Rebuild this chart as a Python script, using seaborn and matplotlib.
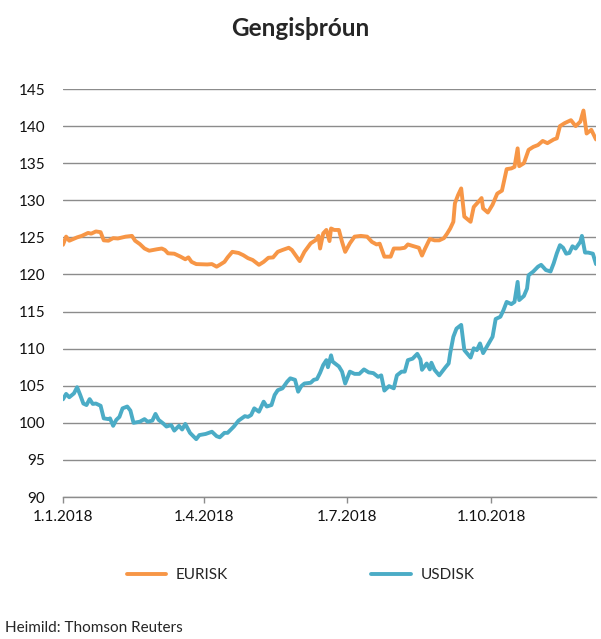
import seaborn as sns
import matplotlib.pyplot as plt
import pandas as pd

# days since 1.1.2018 and rates
eur_days = [0, 2, 4, 9, 12, 16, 18, 21, 24, 26, 29, 32, 35, 40, 44, 46, 49, 52, 55, 60,
            63, 65, 67, 71, 75, 78, 80, 82, 85, 92, 95, 98, 100, 103, 105, 108, 112, 115, 118, 121,
            125, 128, 131, 134, 137, 140, 144, 146, 149, 151, 154, 158, 161, 163, 164, 166, 168, 170, 171, 173,
            176, 178, 180, 183, 186, 190, 194, 197, 200, 202, 205, 209, 211, 215, 218, 220, 223, 227, 229, 231,
            234, 237, 240, 243, 245, 247, 249, 250, 252, 254, 256, 260, 262, 265, 267, 268, 271, 274, 277, 280,
            283, 286, 288, 290, 291, 294, 297, 300, 303, 306, 309, 313, 315, 317, 320, 324, 327, 330, 332, 334,
            337, 340]
eurisk = [124.0, 125.1, 124.55, 125.0, 125.2, 125.6, 125.5, 125.8, 125.7, 124.6, 124.55, 124.9, 124.85, 125.1, 125.2, 124.55, 124.1, 123.5, 123.2, 123.4,
          123.5, 123.3, 122.85, 122.8, 122.4, 122.05, 122.3, 121.7, 121.4, 121.35, 121.4, 121.05, 121.3, 121.7, 122.3, 123.05, 122.9, 122.6, 122.2, 121.95,
          121.3, 121.7, 122.25, 122.3, 123.05, 123.3, 123.6, 123.3, 122.4, 121.8, 123.05, 124.2, 124.6, 125.2, 123.5, 125.55, 126.0, 124.5, 126.2, 126.0,
          126.0, 124.4, 123.05, 124.2, 125.1, 125.2, 125.1, 124.4, 124.05, 124.15, 122.4, 122.4, 123.5, 123.5, 123.6, 124.05, 123.85, 123.6, 122.55, 123.5,
          124.8, 124.6, 124.6, 124.9, 125.5, 126.2, 127.1, 129.6, 130.7, 131.6, 127.8, 127.1, 129.1, 129.8, 130.3, 128.9, 128.35, 129.4, 130.9, 131.3,
          134.2, 134.3, 134.5, 137.0, 134.6, 135.0, 136.8, 137.2, 137.45, 138.0, 137.7, 138.2, 138.35, 140.0, 140.4, 140.8, 140.0, 140.6, 142.1, 139.0,
          139.5, 138.2]

usd_days = [0, 2, 4, 7, 9, 11, 13, 15, 17, 19, 21, 24, 26, 29, 30, 32, 34, 36, 38, 41,
            43, 45, 49, 52, 54, 57, 59, 61, 64, 66, 69, 71, 74, 76, 78, 81, 85, 87, 91, 95,
            98, 100, 103, 105, 109, 112, 114, 116, 118, 120, 122, 125, 128, 130, 133, 135, 137, 140, 143, 145,
            148, 150, 152, 154, 158, 160, 162, 164, 166, 168, 169, 171, 172, 176, 178, 180, 183, 186, 189, 192,
            195, 198, 201, 203, 205, 208, 211, 213, 216, 218, 220, 223, 226, 228, 229, 232, 234, 235, 237, 240,
            244, 246, 247, 249, 251, 254, 256, 260, 262, 264, 266, 268, 271, 274, 276, 279, 281, 283, 286, 288,
            290, 291, 294, 296, 297, 300, 303, 305, 308, 311, 313, 315, 317, 319, 321, 323, 325, 327, 330, 331,
            333, 335, 338, 340]
usdisk = [103.17, 103.9, 103.45, 103.97, 104.8, 103.75, 102.6, 102.4, 103.2, 102.55, 102.6, 102.3, 100.6, 100.5, 100.6, 99.6, 100.4, 100.8, 101.95, 102.2,
          101.65, 100.0, 100.15, 100.5, 100.15, 100.3, 101.2, 100.4, 99.9, 99.5, 99.7, 98.95, 99.6, 99.1, 99.85, 98.65, 97.8, 98.35, 98.5, 98.8,
          98.2, 98.05, 98.65, 98.65, 99.5, 100.3, 100.6, 100.9, 100.8, 101.05, 101.95, 101.5, 102.85, 102.2, 102.4, 103.75, 104.4, 104.65, 105.55, 106.0,
          105.8, 104.2, 104.95, 105.3, 105.4, 105.8, 105.9, 106.75, 107.8, 108.45, 107.5, 109.1, 108.25, 107.6, 106.9, 105.3, 106.9, 106.6, 106.6, 107.2,
          106.8, 106.7, 106.2, 106.4, 104.35, 104.95, 104.65, 106.4, 106.9, 106.9, 108.45, 108.65, 109.3, 108.55, 107.15, 108.0, 107.2, 108.1, 107.15, 106.4,
          107.5, 108.0, 109.4, 111.6, 112.7, 113.2, 109.8, 108.8, 110.05, 109.8, 110.7, 109.4, 110.5, 111.6, 114.0, 114.3, 115.2, 116.3, 116.0, 116.3,
          119.0, 116.55, 117.1, 118.1, 119.9, 120.4, 121.05, 121.3, 120.6, 120.4, 121.5, 122.85, 123.95, 123.6, 122.8, 122.9, 123.8, 123.5, 124.4, 125.2,
          122.95, 122.95, 122.8, 121.4]

tick_dates = ["2018-01-01", "2018-04-01", "2018-07-01", "2018-10-01"]
tick_labels = ["1.1.2018", "1.4.2018", "1.7.2018", "1.10.2018"]
y_ticks = list(range(90, 146, 5))

start = pd.Timestamp("2018-01-01")
df = pd.concat([
    pd.DataFrame({"date": start + pd.to_timedelta(eur_days, "D"), "rate": eurisk, "series": "EURISK"}),
    pd.DataFrame({"date": start + pd.to_timedelta(usd_days, "D"), "rate": usdisk, "series": "USDISK"}),
])

sns.set_theme(style="white")
plt.rcParams["font.family"] = ["Lato", "DejaVu Sans"]

fig = plt.figure(figsize=(6.01, 6.39), dpi=100)
ax = fig.add_axes([0.1048, 0.2222, 0.8869, 0.6385])

sns.lineplot(data=df, x="date", y="rate", hue="series",
             palette={"EURISK": "#F79646", "USDISK": "#4BACC6"},
             linewidth=2.8, ax=ax)

ax.set_ylim(90, 145)
ax.set_xlim(start, start + pd.Timedelta(days=340))
ax.set_yticks(y_ticks)
ax.set_yticklabels([str(v) for v in y_ticks], fontsize=11, color="#111111")
ax.set_xticks(pd.to_datetime(tick_dates))
ax.set_xticklabels(tick_labels, fontsize=11, color="#111111")
ax.set_xlabel("")
ax.set_ylabel("")
ax.grid(axis="y", color="#8c8c8c", linewidth=1.0)
ax.set_axisbelow(True)
for s in ["top", "right", "left"]:
    ax.spines[s].set_visible(False)
ax.spines["bottom"].set_color("#8c8c8c")
ax.spines["bottom"].set_linewidth(1.0)
ax.tick_params(axis="y", length=0, pad=13)
ax.tick_params(axis="x", length=4.5, width=1.0, color="#8c8c8c", pad=5, bottom=True)

sns.move_legend(ax, "center", bbox_to_anchor=(0.5, 0.1), bbox_transform=fig.transFigure,
                ncol=2, frameon=False, title=None, fontsize=11,
                handlelength=2.6, columnspacing=9.4, handletextpad=0.6)

fig.text(0.5, 0.955, "Gengisþróun", ha="center", va="center", fontsize=17.5, fontweight="bold")
fig.text(0.008, 0.017, "Heimild: Thomson Reuters", ha="left", va="center", fontsize=11)

plt.savefig("out.png", dpi=100)
